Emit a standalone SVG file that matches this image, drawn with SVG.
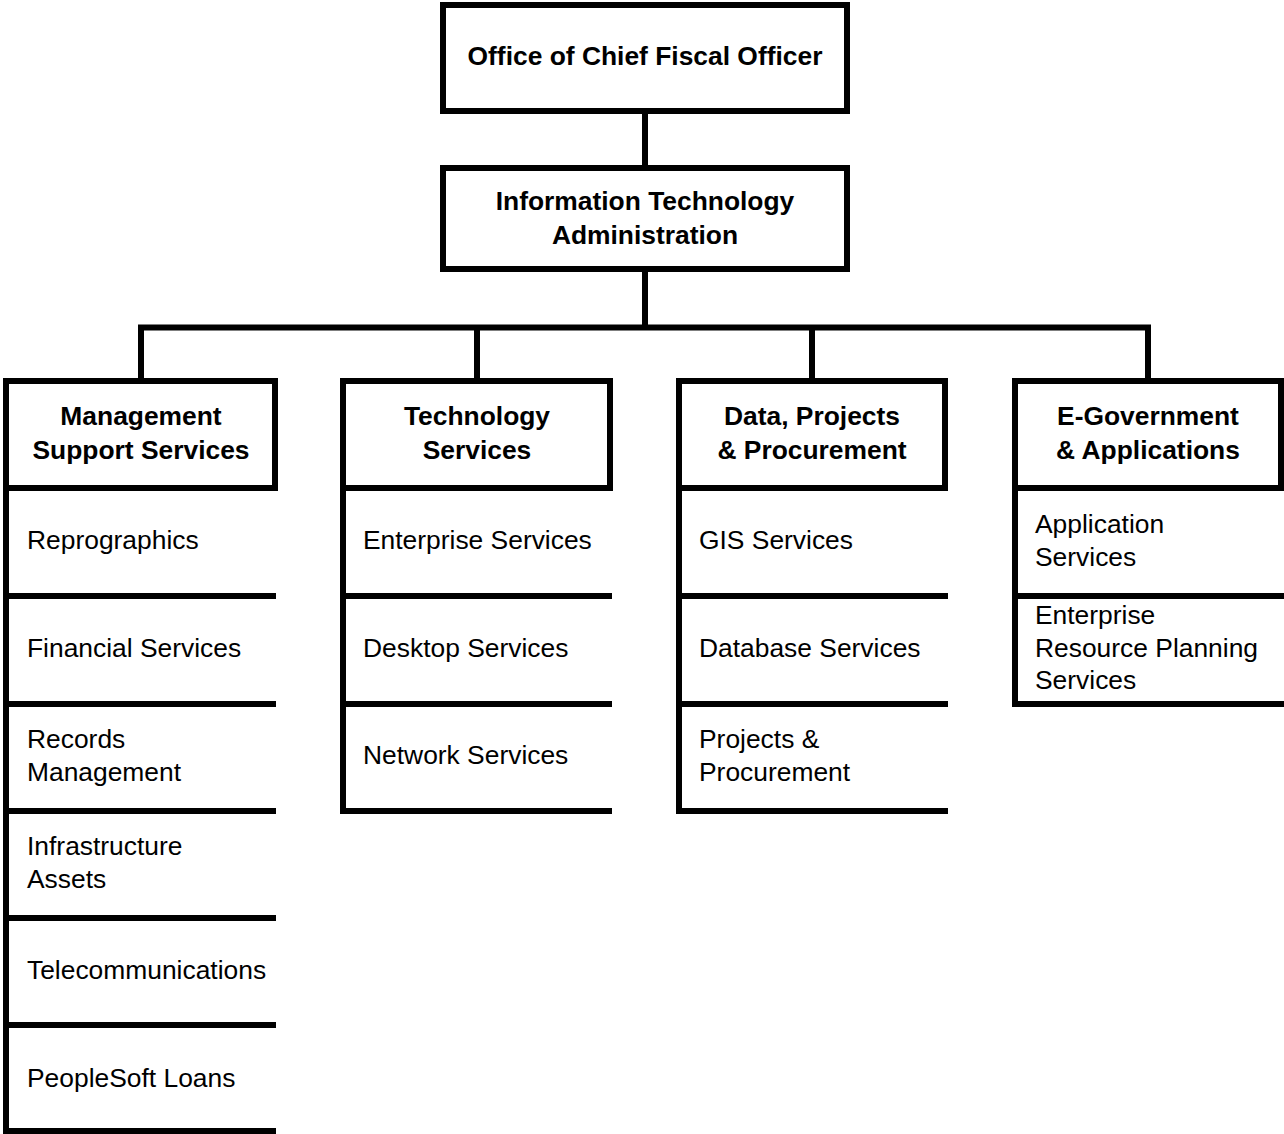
<svg xmlns="http://www.w3.org/2000/svg" width="1284" height="1134" viewBox="0 0 1284 1134">
<style>
.box{fill:#fff;stroke:#000;stroke-width:6}
.ln{stroke:#000;stroke-width:6;fill:none}
.b{font-family:"Liberation Sans",Arial,sans-serif;font-size:26.4px;font-weight:bold;text-anchor:middle;fill:#000}
.t{font-family:"Liberation Sans",Arial,sans-serif;font-size:26.4px;fill:#000}
</style>
<rect width="1284" height="1134" fill="#fff"/>
<g id="connectors">
<line class="ln" x1="645" y1="111" x2="645" y2="168"/>
<line class="ln" x1="645" y1="269" x2="645" y2="327"/>
<line class="ln" x1="138" y1="327.5" x2="1151" y2="327.5"/>
<line class="ln" x1="141" y1="325" x2="141" y2="381"/>
<line class="ln" x1="477" y1="325" x2="477" y2="381"/>
<line class="ln" x1="812" y1="325" x2="812" y2="381"/>
<line class="ln" x1="1148" y1="325" x2="1148" y2="381"/>
</g>
<g id="cfo">
<rect class="box" x="443" y="5" width="404" height="106"/>
<text class="b" x="645" y="65">Office of Chief Fiscal Officer</text>
</g>
<g id="ita">
<rect class="box" x="443" y="168" width="404" height="101"/>
<text class="b" x="645" y="210">Information Technology</text>
<text class="b" x="645" y="244">Administration</text>
</g>
<g id="mss">
<line class="ln" x1="6" y1="488" x2="6" y2="1134"/>
<line class="ln" x1="3" y1="596" x2="276" y2="596"/>
<line class="ln" x1="3" y1="704" x2="276" y2="704"/>
<line class="ln" x1="3" y1="811" x2="276" y2="811"/>
<line class="ln" x1="3" y1="918" x2="276" y2="918"/>
<line class="ln" x1="3" y1="1025" x2="276" y2="1025"/>
<line class="ln" x1="3" y1="1131" x2="276" y2="1131"/>
<rect class="box" x="6" y="381" width="269" height="107"/>
<text class="b" x="141" y="425">Management</text>
<text class="b" x="141" y="459">Support Services</text>
<text class="t" x="27" y="549">Reprographics</text>
<text class="t" x="27" y="657">Financial Services</text>
<text class="t" x="27" y="748">Records</text>
<text class="t" x="27" y="781">Management</text>
<text class="t" x="27" y="855">Infrastructure</text>
<text class="t" x="27" y="888">Assets</text>
<text class="t" x="27" y="979">Telecommunications</text>
<text class="t" x="27" y="1087">PeopleSoft Loans</text>
</g>
<g id="ts">
<line class="ln" x1="343" y1="488" x2="343" y2="814"/>
<line class="ln" x1="340" y1="596" x2="612" y2="596"/>
<line class="ln" x1="340" y1="704" x2="612" y2="704"/>
<line class="ln" x1="340" y1="811" x2="612" y2="811"/>
<rect class="box" x="343" y="381" width="267" height="107"/>
<text class="b" x="477" y="425">Technology</text>
<text class="b" x="477" y="459">Services</text>
<text class="t" x="363" y="549">Enterprise Services</text>
<text class="t" x="363" y="657">Desktop Services</text>
<text class="t" x="363" y="764">Network Services</text>
</g>
<g id="dpp">
<line class="ln" x1="679" y1="488" x2="679" y2="814"/>
<line class="ln" x1="676" y1="596" x2="948" y2="596"/>
<line class="ln" x1="676" y1="704" x2="948" y2="704"/>
<line class="ln" x1="676" y1="811" x2="948" y2="811"/>
<rect class="box" x="679" y="381" width="266" height="107"/>
<text class="b" x="812" y="425">Data, Projects</text>
<text class="b" x="812" y="459">&amp; Procurement</text>
<text class="t" x="699" y="549">GIS Services</text>
<text class="t" x="699" y="657">Database Services</text>
<text class="t" x="699" y="748">Projects &amp;</text>
<text class="t" x="699" y="781">Procurement</text>
</g>
<g id="ega">
<line class="ln" x1="1015" y1="488" x2="1015" y2="707"/>
<line class="ln" x1="1012" y1="596" x2="1284" y2="596"/>
<line class="ln" x1="1012" y1="704" x2="1284" y2="704"/>
<rect class="box" x="1015" y="381" width="266" height="107"/>
<text class="b" x="1148" y="425">E-Government</text>
<text class="b" x="1148" y="459">&amp; Applications</text>
<text class="t" x="1035" y="533">Application</text>
<text class="t" x="1035" y="566">Services</text>
<text class="t" x="1035" y="624">Enterprise</text>
<text class="t" x="1035" y="657">Resource Planning</text>
<text class="t" x="1035" y="689">Services</text>
</g>
</svg>
